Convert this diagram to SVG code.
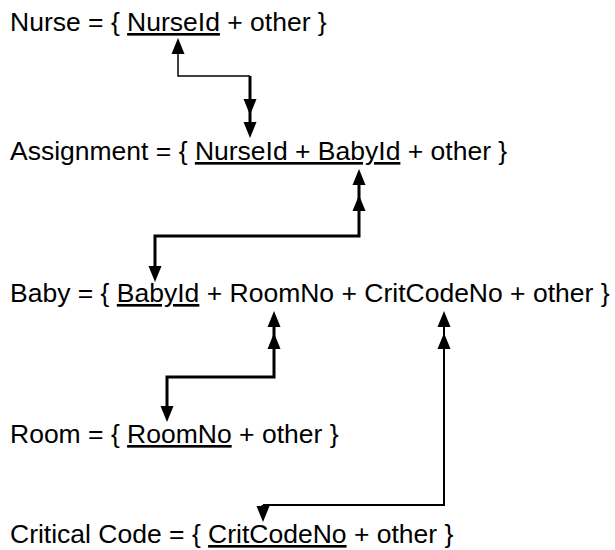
<svg xmlns="http://www.w3.org/2000/svg" xmlns:xlink="http://www.w3.org/1999/xlink" width="615" height="550" viewBox="0 0 615 550">
<style>
  text { font-family: "Liberation Sans", Arial, sans-serif; font-size: 26.5px; fill: #000; }
  .u { text-decoration: underline; }
  .thin { stroke: #000; stroke-width: 1.5; fill: none; }
  .mid { stroke: #000; stroke-width: 2; fill: none; }
  .thick { stroke: #000; stroke-width: 3; fill: none; }
  .head { fill: #000; stroke: none; }
</style>
<defs>
  <path id="up" d="M0,0 L-6.5,16 L6.5,16 Z"/>
  <path id="down" d="M0,0 L-6.5,-16 L6.5,-16 Z"/>
</defs>
<rect width="615" height="550" fill="#fff"/>

<g id="nurse"><text x="10" y="31">Nurse = { <tspan class="u">NurseId</tspan> + other }</text></g>
<g id="assignment"><text x="10" y="160">Assignment = { <tspan class="u">NurseId + BabyId</tspan> + other }</text></g>
<g id="baby"><text x="10" y="302">Baby = { <tspan class="u">BabyId</tspan> + RoomNo + CritCodeNo + other }</text></g>
<g id="room"><text x="10" y="443">Room = { <tspan class="u">RoomNo</tspan> + other }</text></g>
<g id="critical"><text x="10" y="543">Critical Code = { <tspan class="u">CritCodeNo</tspan> + other }</text></g>

<g id="connectors">
  <!-- Nurse - Assignment -->
  <polyline class="thin" points="178,50 178,76 250,76"/>
  <polyline class="thick" points="250,76 250,130"/>
  <use xlink:href="#up" class="head" x="178" y="38"/>
  <use xlink:href="#down" class="head" x="250" y="115"/>
  <use xlink:href="#down" class="head" x="250" y="138"/>

  <!-- Assignment - Baby -->
  <polyline class="thick" points="359,175 359,236 155,236 155,272"/>
  <use xlink:href="#up" class="head" x="359" y="169"/>
  <use xlink:href="#up" class="head" x="359" y="195"/>
  <use xlink:href="#down" class="head" x="155" y="282"/>

  <!-- Baby - Room -->
  <polyline class="thick" points="274,318 274,377 167,377 167,412"/>
  <use xlink:href="#up" class="head" x="274" y="311"/>
  <use xlink:href="#up" class="head" x="274" y="333"/>
  <use xlink:href="#down" class="head" x="167" y="422"/>

  <!-- Baby - Critical Code -->
  <polyline class="mid" points="444,318 444,505 263,505"/>
  <polyline class="thick" points="263,505 263,512"/>
  <use xlink:href="#up" class="head" x="444" y="311"/>
  <use xlink:href="#up" class="head" x="444" y="333"/>
  <use xlink:href="#down" class="head" x="263" y="522"/>
</g>
</svg>
